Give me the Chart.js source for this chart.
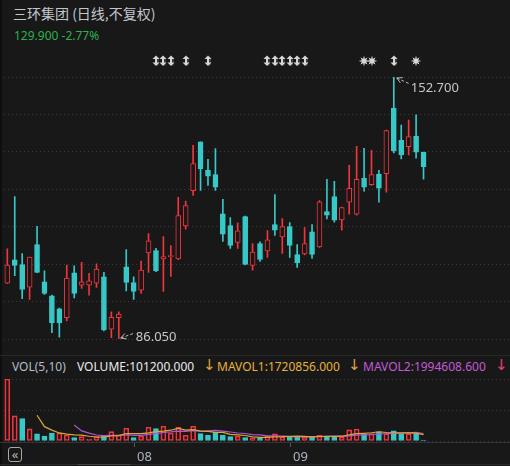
<!DOCTYPE html>
<html>
<head>
<meta charset="utf-8">
<script src="https://cdn.jsdelivr.net/npm/chart.js@4/dist/chart.umd.min.js"></script>
<style>
  body { margin: 0; background: #181818; width: 510px; height: 466px; overflow: hidden; position: relative; font-family: "Noto Sans", sans-serif; }
  canvas { position: absolute; left: 0; top: 0; }
  .t { position: absolute; white-space: nowrap; }
  .vol span { position: absolute; top: 0; }
  .vol span.ar { font-size: 15px; top: -2px; font-family: "DejaVu Sans"; }
</style>
</head>
<body>
<div style="position:absolute;left:0;top:0;width:2px;height:466px;background:#0e0e0e"></div>
<div class="t" style="left:13px;top:3px;font-size:14px;line-height:20px;color:#c3c7cc;font-family:'Noto Sans CJK SC'">三环集团 (日线,不复权)</div>
<div class="t" style="left:14px;top:27px;font-size:12px;line-height:18px;color:#2bb24c">129.900 -2.77%</div>
<div style="position:absolute;left:0;top:355px;width:510px;height:1px;background:#262626"></div>
<div class="t vol" style="left:0;top:359px;font-size:12px;line-height:16px;width:510px;height:16px">
  <span style="left:12px;color:#b4bcc8">VOL(5,10)</span>
  <span style="left:77px;color:#e8eaee">VOLUME:101200.000</span>
  <span class="ar" style="left:203px;color:#e0a040">↓</span>
  <span style="left:217px;color:#e6b23a">MAVOL1:1720856.000</span>
  <span class="ar" style="left:348px;color:#e0a040">↓</span>
  <span style="left:363px;color:#c45ad6">MAVOL2:1994608.600</span>
  <span class="ar" style="left:495px;color:#e0407a">↓</span>
</div>
<div style="position:absolute;left:8px;top:447px;width:12px;height:13px;border:1.5px solid #a8a8a8;border-radius:3px;color:#b8b8b8;font-size:13px;line-height:12px;text-align:center">«</div>
<div style="position:absolute;left:0;top:464px;width:510px;height:1px;background:#2a2a2a"></div>
<div style="position:absolute;left:78px;top:464px;width:52px;height:1px;background:#444"></div>

<canvas id="main" width="510" height="466"></canvas>
<canvas id="vol" width="510" height="466"></canvas>

<script>
// trading days shown (2025)
const dates = [
  '07-09','07-10','07-11','07-14','07-15','07-16','07-17','07-18','07-21','07-22','07-23','07-24','07-25','07-28','07-29','07-30','07-31',
  '08-01','08-04','08-05','08-06','08-07','08-08','08-11','08-12','08-13','08-14','08-15','08-18','08-19','08-20','08-21','08-22','08-25','08-26','08-27','08-28','08-29',
  '09-01','09-02','09-03','09-04','09-05','09-08','09-09','09-10','09-11','09-12','09-15','09-16','09-17','09-18','09-19','09-22','09-23','09-24','09-25'
];
const openP = [
  100.27,106.22,104.95,99.25,110.05,100.61,97.03,93.71,91.49,102.90,
  99.76,99.76,100.27,101.88,88.53,91.49,104.44,100.43,98.49,107.94,
  108.52,106.40,106.99,106.40,114.83,123.77,136.18,128.95,127.85,117.89,
  114.91,110.64,117.20,104.77,110.31,108.45,115.16,112.02,114.65,107.50,
  107.68,113.30,109.47,118.48,122.31,116.36,120.86,117.79,126.91,125.30,
  127.93,128.11,144.78,136.61,135.00,137.63,133.55
];
const highP = [
  108.96,122.31,107.76,106.91,114.73,103.42,97.20,93.90,104.87,104.69,
  105.54,102.73,105.20,102.98,92.95,92.95,108.78,101.88,105.89,112.86,
  109.11,112.10,109.80,122.06,121.11,135.34,136.20,131.76,134.49,121.55,
  116.95,115.60,117.30,110.31,110.74,113.63,122.82,116.69,115.67,110.05,
  114.40,115.16,121.29,126.65,126.14,119.60,130.23,135.08,134.57,134.06,
  128.95,139.20,152.70,140.44,141.72,143.07,133.60
];
const lowP = [
  100.20,102.14,96.34,96.09,102.90,97.36,87.66,86.50,90.65,96.52,
  98.90,97.21,99.15,88.09,86.40,86.05,98.31,96.09,97.62,102.98,
  103.16,98.13,101.96,106.22,113.96,122.57,123.84,125.12,123.84,110.90,
  109.11,109.11,104.90,103.59,105.79,106.81,112.43,107.83,106.81,104.26,
  107.42,106.56,109.37,116.62,115.75,113.71,117.79,117.54,123.67,125.12,
  120.86,123.41,133.37,131.84,132.86,132.02,126.73
];
const closeP = [
  104.87,104.77,98.64,106.91,102.98,97.62,90.21,90.15,101.55,97.62,
  100.61,100.86,103.85,88.35,91.59,92.36,100.43,98.13,103.59,111.00,
  103.42,106.99,107.00,117.46,120.01,130.66,129.39,127.50,124.69,112.69,
  109.88,113.55,105.02,108.19,106.30,111.25,113.71,114.65,109.88,105.38,
  110.31,107.58,120.96,117.54,116.26,119.50,124.35,126.65,124.69,127.85,
  124.43,139.09,133.88,132.86,137.56,133.60,129.90
];
const volume = [
  16540000,6700000,5980000,3220000,1880000,1340000,2140000,2140000,1610000,880000,
  1150000,540000,1150000,1340000,2490000,1610000,3400000,880000,1340000,3670000,
  3300000,3940000,2140000,3670000,1530000,3940000,1960000,1610000,2410000,1610000,
  1150000,1260000,880000,720000,700000,1340000,1880000,1070000,1150000,1070000,
  990000,1260000,1530000,1260000,1260000,1070000,2950000,3200000,1800000,1950000,
  2450000,1941806,2700000,1880000,1960000,1963080,101200
];
const volUp = [
  1,1,0,1,0,0,0,1,1,0, 1,1,1,0,1,1,1,0,1,1, 0,1,1,1,1,1,0,0,0,0,
  0,1,0,1,0,1,1,1,0,0, 1,0,1,0,0,1,1,1,0,1, 0,1,0,0,1,0,0
];
// event markers above candles (0-based index)
const arrowMarks = [20,21,22,24,27,35,36,37,38,39,40,52];
const starMarks = [48,49,55];
const slotCount = 68;

const BG = '#181818', RED = '#f2343c', TEAL = '#38c8c8', GRID = '#3a3a3a';
const labels = dates.concat(Array(slotCount - dates.length).fill(''));
const isUp = openP.map((o, i) => closeP[i] >= o);
const candleColor = isUp.map(u => u ? RED : TEAL);
const yMin = Math.min(...lowP), yMax = Math.max(...highP);

function ma(n) {
  return volume.map((v, i) => {
    if (i < n - 1) return null;
    let s = 0;
    for (let j = i - n + 1; j <= i; j++) s += volume[j];
    return s / n;
  });
}

function evenTicks(lo, hi, n) {
  return axis => {
    axis.ticks = [];
    for (let i = 0; i <= n; i++) axis.ticks.push({ value: lo + (hi - lo) * i / n });
  };
}

function drawArrowMark(ctx, x, y) {
  ctx.fillStyle = '#3a3a3a';
  ctx.fillRect(x + 1, y - 3, 2, 8);
  ctx.fillStyle = '#d6d6d6';
  ctx.fillRect(x - 1, y - 3, 2, 7);
  ctx.beginPath(); ctx.moveTo(x - 3.5, y - 1.5); ctx.lineTo(x, y - 5); ctx.lineTo(x + 3.5, y - 1.5); ctx.closePath(); ctx.fill();
  ctx.beginPath(); ctx.moveTo(x - 3.5, y + 2); ctx.lineTo(x, y + 5.5); ctx.lineTo(x + 3.5, y + 2); ctx.closePath(); ctx.fill();
}

function drawStar(ctx, x, y) {
  ctx.fillStyle = '#d6d6d6';
  ctx.strokeStyle = '#d6d6d6';
  ctx.lineWidth = 1;
  ctx.fillRect(x - 2.5, y - 2.5, 5, 5);
  ctx.beginPath();
  for (let a = 0; a < 8; a++) {
    const ang = a * Math.PI / 4;
    ctx.moveTo(x, y);
    ctx.lineTo(x + Math.cos(ang) * 4.5, y + Math.sin(ang) * 4.5);
  }
  ctx.stroke();
}

function note(ctx, tx, ty, dx, dy, text) {
  ctx.save();
  ctx.strokeStyle = '#b8bcc0';
  ctx.lineWidth = 1;
  ctx.setLineDash([3, 2]);
  ctx.beginPath(); ctx.moveTo(tx, ty); ctx.lineTo(tx + dx, ty + dy); ctx.stroke();
  ctx.setLineDash([]);
  const ang = Math.atan2(dy, dx);
  ctx.beginPath();
  ctx.moveTo(tx + Math.cos(ang - 0.5) * 6, ty + Math.sin(ang - 0.5) * 6);
  ctx.lineTo(tx, ty);
  ctx.lineTo(tx + Math.cos(ang + 0.5) * 6, ty + Math.sin(ang + 0.5) * 6);
  ctx.stroke();
  ctx.fillStyle = '#c4c8cc';
  ctx.font = '13px "Noto Sans"';
  ctx.textBaseline = 'middle';
  ctx.textAlign = 'left';
  ctx.fillText(text, tx + dx + 1, ty + dy + 4);
  ctx.restore();
}

const overlay = {
  id: 'overlay',
  afterDatasetsDraw(chart) {
    const { ctx, scales: { x, y } } = chart;
    ctx.save();
    arrowMarks.forEach(i => drawArrowMark(ctx, Math.round(x.getPixelForValue(i)), 60.5));
    starMarks.forEach(i => drawStar(ctx, Math.round(x.getPixelForValue(i)), 61));
    const hi = highP.indexOf(yMax), lo = lowP.indexOf(yMin);
    note(ctx, x.getPixelForValue(hi) + 3, y.getPixelForValue(yMax) + 1, 13, 6, yMax.toFixed(3));
    note(ctx, x.getPixelForValue(lo) + 2, y.getPixelForValue(yMin) - 1, 14, -5, yMin.toFixed(3));
    ctx.restore();
  }
};

new Chart(document.getElementById('main'), {
  type: 'bar',
  data: {
    labels: labels,
    datasets: [
      {
        data: openP.map((o, i) => [o, closeP[i]]),
        backgroundColor: isUp.map(u => u ? BG : TEAL),
        borderColor: candleColor,
        borderWidth: 1,
        borderSkipped: false,
        barThickness: 5,
        minBarLength: 1,
        grouped: false,
        order: 0
      },
      {
        data: lowP.map((l, i) => [l, highP[i]]),
        backgroundColor: candleColor,
        borderWidth: 0,
        barThickness: 1,
        grouped: false,
        order: 1
      }
    ]
  },
  options: {
    responsive: false,
    animation: false,
    layout: { padding: { left: 3.6, right: 1, top: 77, bottom: 127 } },
    plugins: { legend: { display: false }, tooltip: { enabled: false } },
    scales: {
      x: { display: false },
      y: {
        min: yMin, max: yMax,
        afterBuildTicks: evenTicks(yMin, yMax, 7),
        ticks: { display: false },
        grid: { color: GRID, drawTicks: false },
        border: { display: false, dash: [1, 3] }
      }
    }
  },
  plugins: [overlay]
});

const volAxis = {
  id: 'volAxis',
  afterDraw(chart) {
    const { ctx, chartArea, scales: { x } } = chart;
    ctx.save();
    ctx.fillStyle = '#333';
    ctx.fillRect(0, chartArea.bottom + 1, 510, 1);
    ctx.font = '13px "Noto Sans"';
    ctx.textBaseline = 'middle';
    dates.forEach((d, i) => {
      if (i > 0 && d.slice(0, 2) !== dates[i - 1].slice(0, 2)) {
        const px = Math.round(x.getPixelForValue(i));
        ctx.fillStyle = '#555';
        ctx.fillRect(px, chartArea.bottom + 2, 1, 4);
        ctx.fillStyle = '#a9b3bf';
        ctx.fillText(d.slice(0, 2), px + 3, 457);
      }
    });
    ctx.restore();
  }
};

new Chart(document.getElementById('vol'), {
  type: 'bar',
  data: {
    labels: labels,
    datasets: [
      { type: 'line', data: ma(5), borderColor: '#d9a83a', borderWidth: 1.2, pointRadius: 0, order: 0 },
      { type: 'line', data: ma(10), borderColor: '#b552cf', borderWidth: 1.2, pointRadius: 0, order: 0 },
      {
        data: volume,
        backgroundColor: volUp.map(u => u ? 'rgba(0,0,0,0)' : TEAL),
        borderColor: volUp.map(u => u ? RED : TEAL),
        borderWidth: 1,
        borderSkipped: false,
        barThickness: 5,
        minBarLength: 1,
        order: 1
      }
    ]
  },
  options: {
    responsive: false,
    animation: false,
    layout: { padding: { left: 3.6, right: 1, top: 379, bottom: 25 } },
    plugins: { legend: { display: false }, tooltip: { enabled: false } },
    scales: {
      x: { display: false },
      y: {
        min: 0, max: Math.max(...volume),
        afterBuildTicks: evenTicks(0, Math.max(...volume), 2),
        ticks: { display: false },
        grid: { color: GRID, drawTicks: false },
        border: { display: false, dash: [1, 3] }
      }
    }
  },
  plugins: [volAxis]
});
</script>
</body>
</html>
